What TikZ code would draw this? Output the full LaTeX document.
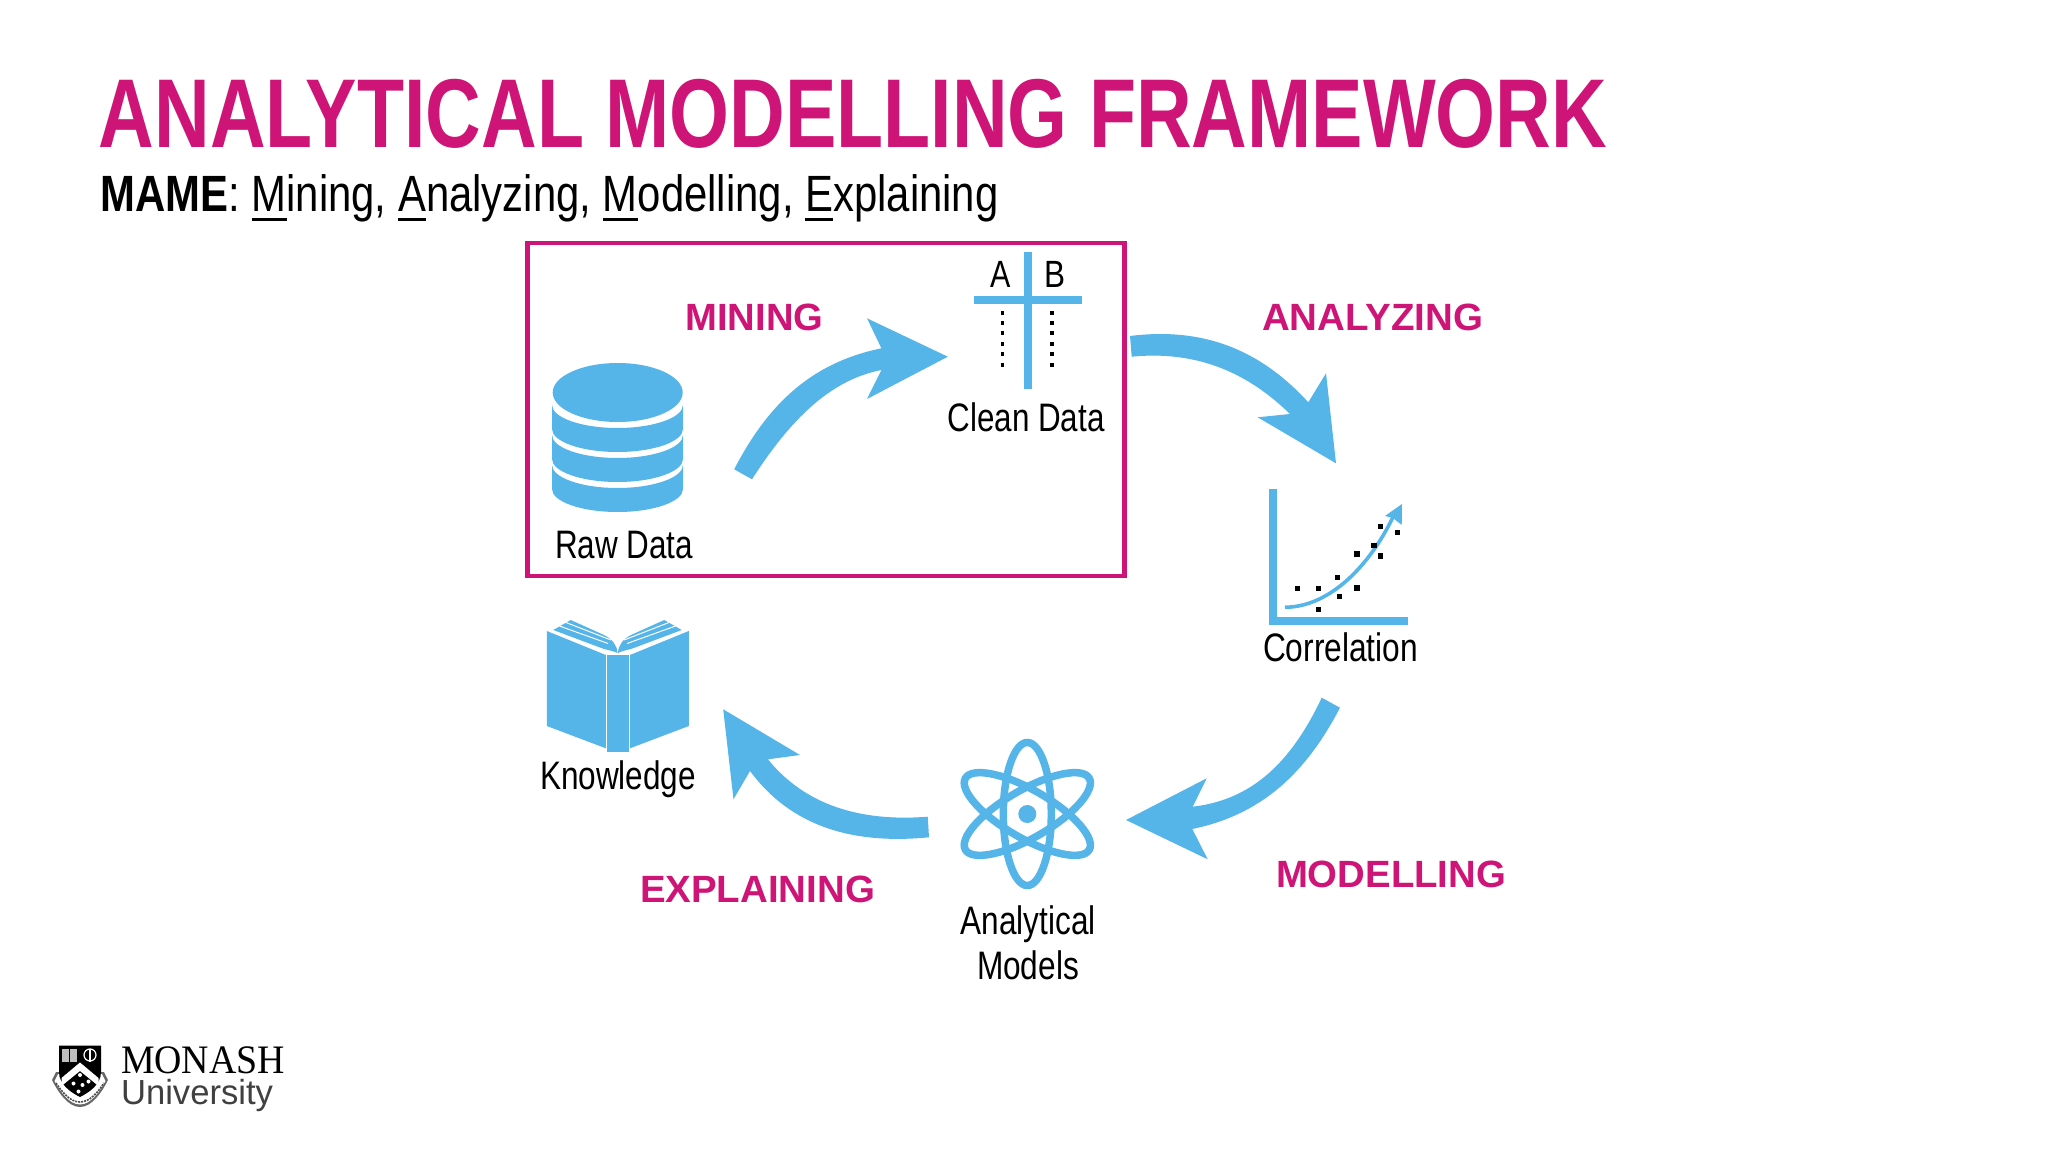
\documentclass[tikz,border=0pt]{standalone}
\usepackage{graphicx}
\usepackage{fontspec}
\setmainfont{Liberation Sans}
\newfontfamily\logoserif{Liberation Serif}
\definecolor{mag}{HTML}{CE1476}
\definecolor{sky}{HTML}{55B4E8}
\newdimen\pxu \pxu=0.01cm
\newcommand\ulet[1]{\leavevmode\setbox0\hbox{#1}\rlap{\rule[-2.6pt]{\wd0}{0.9pt}}\box0}
% \fitted{width px}{font size}{font switches}{text}
\newcommand\fitted[4]{\resizebox{#1\pxu}{\height}{\fontsize{#2}{#2}\selectfont #3\ignorespaces #4}}
\tikzset{
  txt/.style={inner sep=0pt,outer sep=0pt,anchor=base west},
  blk/.style={fill=sky,draw=none},
  atomring/.style={draw=sky,line width=7.5\pxu},
  frameline/.style={draw=mag,line width=4.6\pxu},
  bar/.style={fill=sky,draw=none}
}
\begin{document}
\begin{tikzpicture}[x=0.01cm,y=-0.01cm]
\useasboundingbox (0,0) rectangle (2048,1152);
\fill[white] (0,0) rectangle (2048,1152);
% headings
\node[txt,text=mag] (title) at (99,147.5) {\fitted{1508}{27.8}{\bfseries}{ANALYTICAL MODELLING FRAMEWORK}};
\node[txt] (subtitle) at (100.5,212) {\fitted{898}{14.5}{}{\textbf{MAME}: \ulet{M}ining, \ulet{A}nalyzing, \ulet{M}odelling, \ulet{E}xplaining}};
% frame
\draw[frameline] (527.5,243) rectangle (1124.5,576);
% database
\fill[sky] (617.7,392.5) ellipse [x radius=65,y radius=29.5];
\foreach \k in {405,435,465}{
  \fill[sky] (552,\k) .. controls (552,\k+12.7) and (581.5,\k+23) .. (617.5,\k+23)
    .. controls (653.5,\k+23) and (683,\k+12.7) .. (683,\k)
    -- (683,\k+24) .. controls (683,\k+36.7) and (653.5,\k+47) .. (617.5,\k+47)
    .. controls (581.5,\k+47) and (552,\k+36.7) .. (552,\k+24) -- cycle;
}
\node[txt] (raw) at (555,558) {\fitted{138}{11.3}{}{Raw Data}};
\node[txt,text=mag] (mining) at (685.5,330.5) {\fitted{138}{10.8}{\bfseries}{MINING}};
% mining arrow
\fill[blk] (734.2,469.3) .. controls (770,400) and (815,362) .. (881.4,348.3)
  -- (867,318.3) -- (947.8,356.7) -- (867,399) -- (881.4,370)
  .. controls (830,380) and (790,420) .. (752,479.3) -- cycle;
% clean data glyph
\fill[bar] (1023.6,252) rectangle (1032,389);
\fill[bar] (974,296) rectangle (1082,304);
\foreach \y in {312.7,323.3,333.3,344,354.3,365}{
  \fill[black] (1000.6,\y-1.9) rectangle (1004.4,\y+1.9);
  \fill[black] (1050.1,\y-1.9) rectangle (1053.9,\y+1.9);
}
\node[txt] (colA) at (990.5,287.3) {\fitted{20.3}{10.8}{}{A}};
\node[txt] (colB) at (1044,287.3) {\fitted{21}{10.8}{}{B}};
\node[txt] (clean) at (947.5,431.5) {\fitted{157}{11.3}{}{Clean Data}};
% analyzing arrow
\fill[blk] (1130,336) .. controls (1210,326) and (1265,355) .. (1308.3,402.3)
  -- (1326,373.3) -- (1336,463.3) -- (1257.7,417.3) -- (1290,414)
  .. controls (1250,375) and (1200,350) .. (1131.7,356.7) -- cycle;
\node[txt,text=mag] (analyzing) at (1262,330.5) {\fitted{221}{10.8}{\bfseries}{ANALYZING}};
% correlation glyph
\fill[bar] (1269,489) rectangle (1277,625);
\fill[bar] (1269,617.3) rectangle (1408,625);
\draw[sky,line width=3.6\pxu] (1285,607.3) .. controls (1330,607) and (1370,565) .. (1393,517);
\fill[blk] (1402,504) -- (1401.7,525) -- (1393,518) -- (1385,516) -- cycle;
\foreach \x/\y in {1297.3/588.3,1318.3/588.3,1318.3/609.3,1337.3/577.7,1339.3/596.7,1357/588,1357/554,1374/545.7,1380.3/556,1380.3/526.3,1397.3/532.7}{
  \fill[black] (\x-2.7,\y-2.7) rectangle (\x+2.7,\y+2.7);
}
\node[txt] (corr) at (1263,661.5) {\fitted{155}{11.3}{}{Correlation}};
% modelling arrow
\fill[blk] (1321.7,697.7) .. controls (1290,765) and (1250,800) .. (1192.7,806.7)
  -- (1206.7,778.3) -- (1126,820) -- (1207.7,859.3) -- (1192.3,829)
  .. controls (1260,815) and (1305,775) .. (1340,707.7) -- cycle;
\node[txt,text=mag] (modelling) at (1276,887) {\fitted{230}{10.8}{\bfseries}{MODELLING}};
% atom
\coordinate (atomc) at (1027.3,814);
\foreach \r in {0,60,120}{
  \draw[atomring,rotate around={\r:(atomc)}] (atomc) ellipse [x radius=24,y radius=71.5];
}
\fill[sky] (atomc) circle [radius=9];
\node[txt] (analytical) at (960.7,934.5) {\fitted{135}{11.3}{}{Analytical}};
\node[txt] (models) at (977,979) {\fitted{102}{11.3}{}{Models}};
% explaining arrow
\fill[blk] (927.7,816.7) .. controls (860,822) and (805,805) .. (767.9,759.3)
  -- (800,755) -- (723.2,709.3) -- (733.5,799.3) -- (750,771)
  .. controls (790,825) and (850,845) .. (929,837.3) -- cycle;
\node[txt,text=mag] (explaining) at (640,902) {\fitted{235}{10.8}{\bfseries}{EXPLAINING}};
% book
\fill[sky] (546.8,631) -- (605.8,655) -- (605.8,748.3) -- (546.8,726) -- cycle;
\fill[sky] (688.8,631) -- (630,655) -- (630,748.3) -- (688.8,726) -- cycle;
\fill[sky] (607,655) rectangle (628.6,752);
\fill[sky] (553.3,630) -- (570.7,620) -- (604,635) .. controls (612,639) and (617,645) .. (617.6,653)
  .. controls (613,651) and (608,650) .. (604,649) -- cycle;
\fill[sky] (681.7,630) -- (664.3,620) -- (631,635) .. controls (623,639) and (618.5,645) .. (617.9,653)
  .. controls (622,651) and (627,650) .. (631,649) -- cycle;
\draw[white,line width=1\pxu] (559.5,626) -- (608,643.5);
\draw[white,line width=1\pxu] (566,622.5) -- (611,640);
\draw[white,line width=1\pxu] (675.5,626) -- (627,643.5);
\draw[white,line width=1\pxu] (669,622.5) -- (624,640);
\node[txt] (know) at (540,789.5) {\fitted{156}{11.3}{}{Knowledge}};
% logo
\fill[black!60] (52,1080) .. controls (58,1092) and (68,1107) .. (80,1107) .. controls (92,1107) and (102,1092) .. (108,1080)
  -- (104,1072) -- (56,1072) -- cycle;
\fill[white] (54.5,1081) .. controls (60,1091) and (69,1104.5) .. (80,1104.5) .. controls (91,1104.5) and (100,1091) .. (105.5,1081) -- (102,1074) -- (58,1074) -- cycle;
\draw[black!70,line width=1.6\pxu,dash pattern=on 2\pxu off 1\pxu] (56,1083) .. controls (62,1092) and (70,1102) .. (80,1102) .. controls (90,1102) and (98,1092) .. (104,1083);
\fill[black] (59,1045.7) -- (101,1045.7) -- (101,1072) .. controls (101,1084) and (90,1092) .. (80,1097) .. controls (70,1092) and (59,1084) .. (59,1072) -- cycle;
\fill[white] (61.5,1078) -- (80,1062.5) -- (98.5,1078) -- (98.5,1086) -- (80,1071) -- (61.5,1086) -- cycle;
\foreach \x/\y in {80/1075,88.5/1081.5,82.5/1085,73.5/1083.5,78.5/1091.5}{
  \fill[white] (\x,\y) circle [radius=2];
}
\fill[black!25] (62,1049) rectangle (77,1061.5);
\draw[black,line width=.8\pxu] (69.5,1049) -- (69.5,1061.5);
\draw[white,line width=1.2\pxu] (90,1055) circle [radius=6];
\draw[white,line width=1.4\pxu] (90,1048.5) -- (90,1062);
\node[txt] (monash) at (121,1073.3) {\fitted{164}{11.5}{\logoserif}{MONASH}};
\node[txt,text=black!75] (univ) at (121,1104) {\fitted{152}{9.9}{}{University}};
\end{tikzpicture}
\end{document}
